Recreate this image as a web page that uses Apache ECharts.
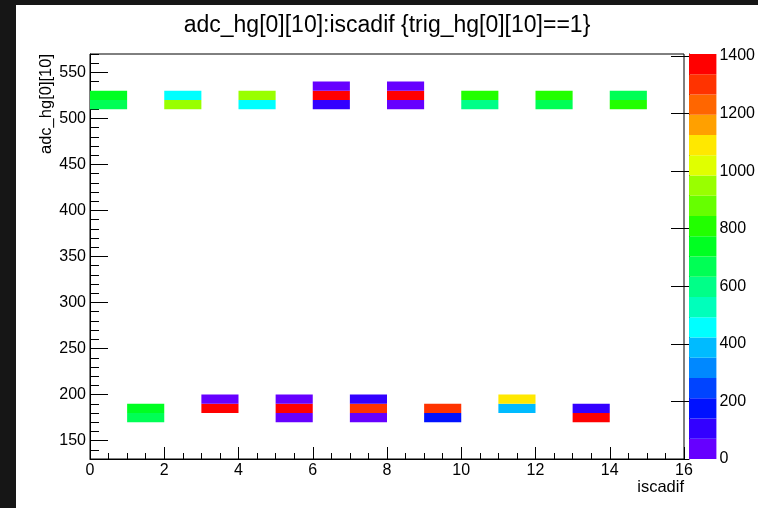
<!DOCTYPE html>
<html>
<head>
<meta charset="utf-8">
<script src="https://cdn.jsdelivr.net/npm/echarts@6/dist/echarts.min.js"></script>
<style>
  html, body { margin: 0; padding: 0; background: #161616; width: 758px; height: 508px; overflow: hidden; }
  #chart { position: absolute; left: 16px; top: 5px; width: 742px; height: 503px; background: #fff; }
</style>
</head>
<body>
<div id="chart"></div>
<script>
// bin widths of the 2D histogram
var xBinWidth = 1
var yBinWidth = 10

// [iscadif bin low edge, adc bin low edge, entries]
var cells = [
  [0, 510, 690], [0, 520, 760],
  [2, 510, 960], [2, 520, 470],
  [4, 510, 470], [4, 520, 960],
  [6, 510, 110], [6, 520, 1380], [6, 530, 50],
  [8, 510, 45], [8, 520, 1390], [8, 530, 40],
  [10, 510, 600], [10, 520, 820],
  [12, 510, 680], [12, 520, 830],
  [14, 510, 820], [14, 520, 680],
  [1, 170, 670], [1, 180, 750],
  [3, 180, 1390], [3, 190, 45],
  [5, 170, 40], [5, 180, 1395], [5, 190, 40],
  [7, 170, 45], [7, 180, 1310], [7, 190, 110],
  [9, 170, 180], [9, 180, 1300],
  [11, 180, 390], [11, 190, 1100],
  [13, 170, 1405], [13, 180, 105]
]

var zMax = 1407
// 20 contour colours, low to high
var palette = [
  '#6600ff', '#3300ff', '#0011ff', '#0044ff', '#0088ff',
  '#00bbff', '#00ffff', '#00ffbb', '#00ff88', '#00ff55',
  '#00ff22', '#22ff00', '#66ff00', '#99ff00', '#e0ff00',
  '#ffe800', '#ffa000', '#ff6600', '#ff3300', '#ff0000'
]
var xTicks = [0, 2, 4, 6, 8, 10, 12, 14, 16]
var yLabelTicks = [150, 200, 250, 300, 350, 400, 450, 500, 550]
var zTicks = [0, 200, 400, 600, 800, 1000, 1200, 1400]

var font = 'Liberation Sans'
var step = zMax / palette.length
var pieces = palette.map(function (c, i) {
  return { gte: i * step, lt: (i + 1) * step, color: c }
})
pieces[pieces.length - 1].lte = zMax
delete pieces[pieces.length - 1].lt

// colour bar bands: [0, low edge, middle value]
var bands = palette.map(function (c, i) {
  return [0, i * step, (i + 0.5) * step]
})

var chart = echarts.init(document.getElementById('chart'))
chart.setOption({
  animation: false,
  title: {
    text: 'adc_hg[0][10]:iscadif {trig_hg[0][10]==1}',
    left: 'center',
    top: 4,
    textStyle: { fontFamily: font, fontSize: 23, fontWeight: 'normal', color: '#000' }
  },
  grid: [
    { left: 74, right: 74, top: 49, bottom: 49, show: true, borderColor: '#000', borderWidth: 1, backgroundColor: 'transparent' },
    { left: 673, right: 36, top: 49, bottom: 49 }
  ],
  visualMap: {
    type: 'piecewise',
    show: false,
    seriesIndex: [0, 1],
    dimension: 2,
    pieces: pieces
  },
  xAxis: [
    {
      gridIndex: 0,
      type: 'value',
      min: xTicks[0],
      max: xTicks[xTicks.length - 1],
      interval: 2,
      axisLine: { lineStyle: { color: '#000', width: 1 } },
      axisTick: { inside: true, length: 12, lineStyle: { color: '#000' } },
      minorTick: { show: true, splitNumber: 4, length: 6, lineStyle: { color: '#000' } },
      splitLine: { show: false },
      axisLabel: { color: '#000', fontFamily: font, fontSize: 16, margin: 4 }
    },
    { gridIndex: 1, type: 'value', min: 0, max: 1, show: false }
  ],
  yAxis: [
    {
      gridIndex: 0,
      type: 'value',
      position: 'left',
      min: 130,
      max: 570,
      interval: 10,
      axisLine: { lineStyle: { color: '#000', width: 1 } },
      axisTick: { inside: true, length: 9, lineStyle: { color: '#000' } },
      splitLine: { show: false },
      axisLabel: { customValues: yLabelTicks, color: '#000', fontFamily: font, fontSize: 16, margin: 4 }
    },
    {
      // long ticks at the labelled values
      gridIndex: 0,
      type: 'value',
      position: 'left',
      min: 130,
      max: 570,
      axisLine: { show: false },
      axisTick: { inside: true, length: 18, customValues: yLabelTicks, lineStyle: { color: '#000' } },
      splitLine: { show: false },
      axisLabel: { show: false }
    },
    {
      gridIndex: 1,
      type: 'value',
      position: 'right',
      min: 0,
      max: zMax,
      axisLine: { show: true, lineStyle: { color: '#000', width: 1 } },
      axisTick: { inside: true, length: 18, customValues: zTicks, lineStyle: { color: '#000' } },
      splitLine: { show: false },
      axisLabel: {
        customValues: zTicks,
        formatter: function (v) { return String(v) },
        color: '#000',
        fontFamily: font,
        fontSize: 16,
        margin: 3
      }
    }
  ],
  graphic: [
    {
      type: 'text',
      x: 30.5,
      y: 49,
      rotation: Math.PI / 2,
      style: { text: 'adc_hg[0][10]', font: '16.5px ' + font, fill: '#000', textAlign: 'right', textVerticalAlign: 'middle' }
    },
    {
      type: 'text',
      right: 74,
      top: 474,
      style: { text: 'iscadif', font: '16.5px ' + font, fill: '#000' }
    }
  ],
  series: [
    {
      type: 'custom',
      xAxisIndex: 0,
      yAxisIndex: 0,
      encode: { x: 0, y: 1 },
      data: cells,
      renderItem: function (params, api) {
        var p0 = api.coord([api.value(0), api.value(1) + yBinWidth])
        var p1 = api.coord([api.value(0) + xBinWidth, api.value(1)])
        return {
          type: 'rect',
          shape: { x: p0[0], y: p0[1], width: p1[0] - p0[0], height: p1[1] - p0[1] },
          style: { fill: api.visual('color') }
        }
      }
    },
    {
      type: 'custom',
      xAxisIndex: 1,
      yAxisIndex: 2,
      encode: { x: 0, y: 1 },
      data: bands,
      renderItem: function (params, api) {
        var p0 = api.coord([0, api.value(1) + step])
        var p1 = api.coord([1, api.value(1)])
        return {
          type: 'rect',
          shape: { x: p0[0], y: p0[1], width: p1[0] - p0[0], height: p1[1] - p0[1] },
          style: { fill: api.visual('color') }
        }
      }
    }
  ]
})
</script>
</body>
</html>
